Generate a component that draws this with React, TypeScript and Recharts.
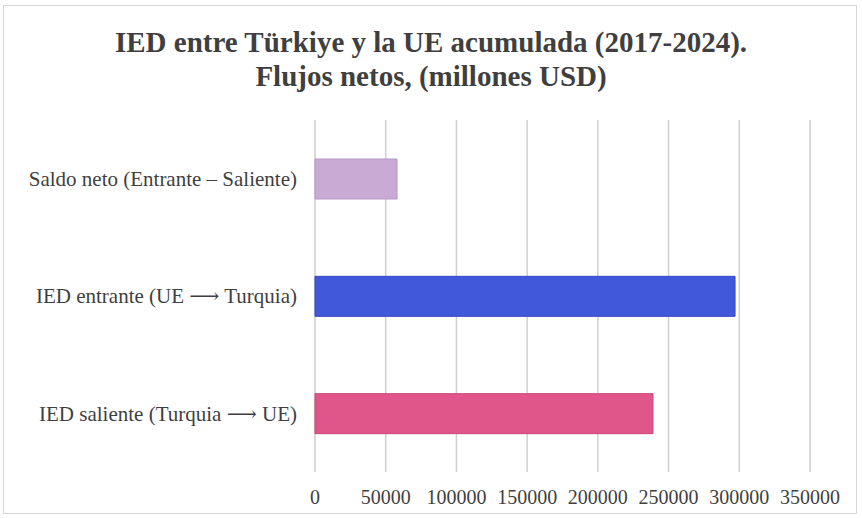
import React from 'react';
import { BarChart, Bar, XAxis, YAxis, CartesianGrid, Cell } from 'recharts';

const categories = [
  'Saldo neto (Entrante – Saliente)',
  'IED entrante (UE ⟶ Turquia)',
  'IED saliente (Turquia ⟶ UE)',
];
const values = [58000, 297000, 239000];
const barColors = ['#c8aad4', '#4158da', '#e0568a'];
const barEdges = ['#b898c6', '#3447c4', '#cc4478'];
const xTicks = [0, 50000, 100000, 150000, 200000, 250000, 300000, 350000];

const data = categories.map((name, i) => ({ name, value: values[i] }));

const serif = '"Liberation Serif", "DejaVu Serif", serif';

const App: React.FC = () => {
  return (
    <div
      style={{
        position: 'fixed',
        left: 0,
        top: 0,
        width: 862,
        height: 518,
        background: '#ffffff',
        fontFamily: serif,
      }}
    >
      <div
        style={{
          position: 'absolute',
          left: 3,
          top: 5,
          width: 854,
          height: 509,
          border: '1px solid #d6d6d6',
          boxSizing: 'border-box',
        }}
      />
      <div
        style={{
          position: 'absolute',
          left: 0,
          top: 25,
          width: 862,
          textAlign: 'center',
          fontSize: 29,
          fontWeight: 700,
          color: '#3f3f3f',
          lineHeight: '34px',
        }}
      >
        IED entre Türkiye y la UE acumulada (2017-2024).
        <br />
        Flujos netos, (millones USD)
      </div>
      <div style={{ position: 'absolute', left: 0, top: 0 }}>
        <BarChart
          width={862}
          height={518}
          data={data}
          layout="vertical"
          margin={{ top: 120, right: 52, bottom: 0, left: 0 }}
          barCategoryGap="33%"
        >
          <CartesianGrid horizontal={false} stroke="#cfcfcf" strokeWidth={1.5} />
          <XAxis
            type="number"
            domain={[0, 350000]}
            ticks={xTicks}
            interval={0}
            axisLine={false}
            tickLine={false}
            tickSize={0}
            tickMargin={18}
            height={46}
            tick={{ fill: '#3f3f3f', fontSize: 20, fontFamily: serif }}
          />
          <YAxis
            type="category"
            dataKey="name"
            width={315}
            axisLine={false}
            tickLine={false}
            tickSize={0}
            tickMargin={18}
            tick={{ fill: '#3f3f3f', fontSize: 21, fontFamily: serif }}
          />
          <Bar dataKey="value" barSize={40} isAnimationActive={false}>
            {data.map((entry, index) => (
              <Cell
                key={`cell-${index}`}
                fill={barColors[index]}
                stroke={barEdges[index]}
                strokeWidth={1}
              />
            ))}
          </Bar>
        </BarChart>
      </div>
    </div>
  );
};

export default App;
